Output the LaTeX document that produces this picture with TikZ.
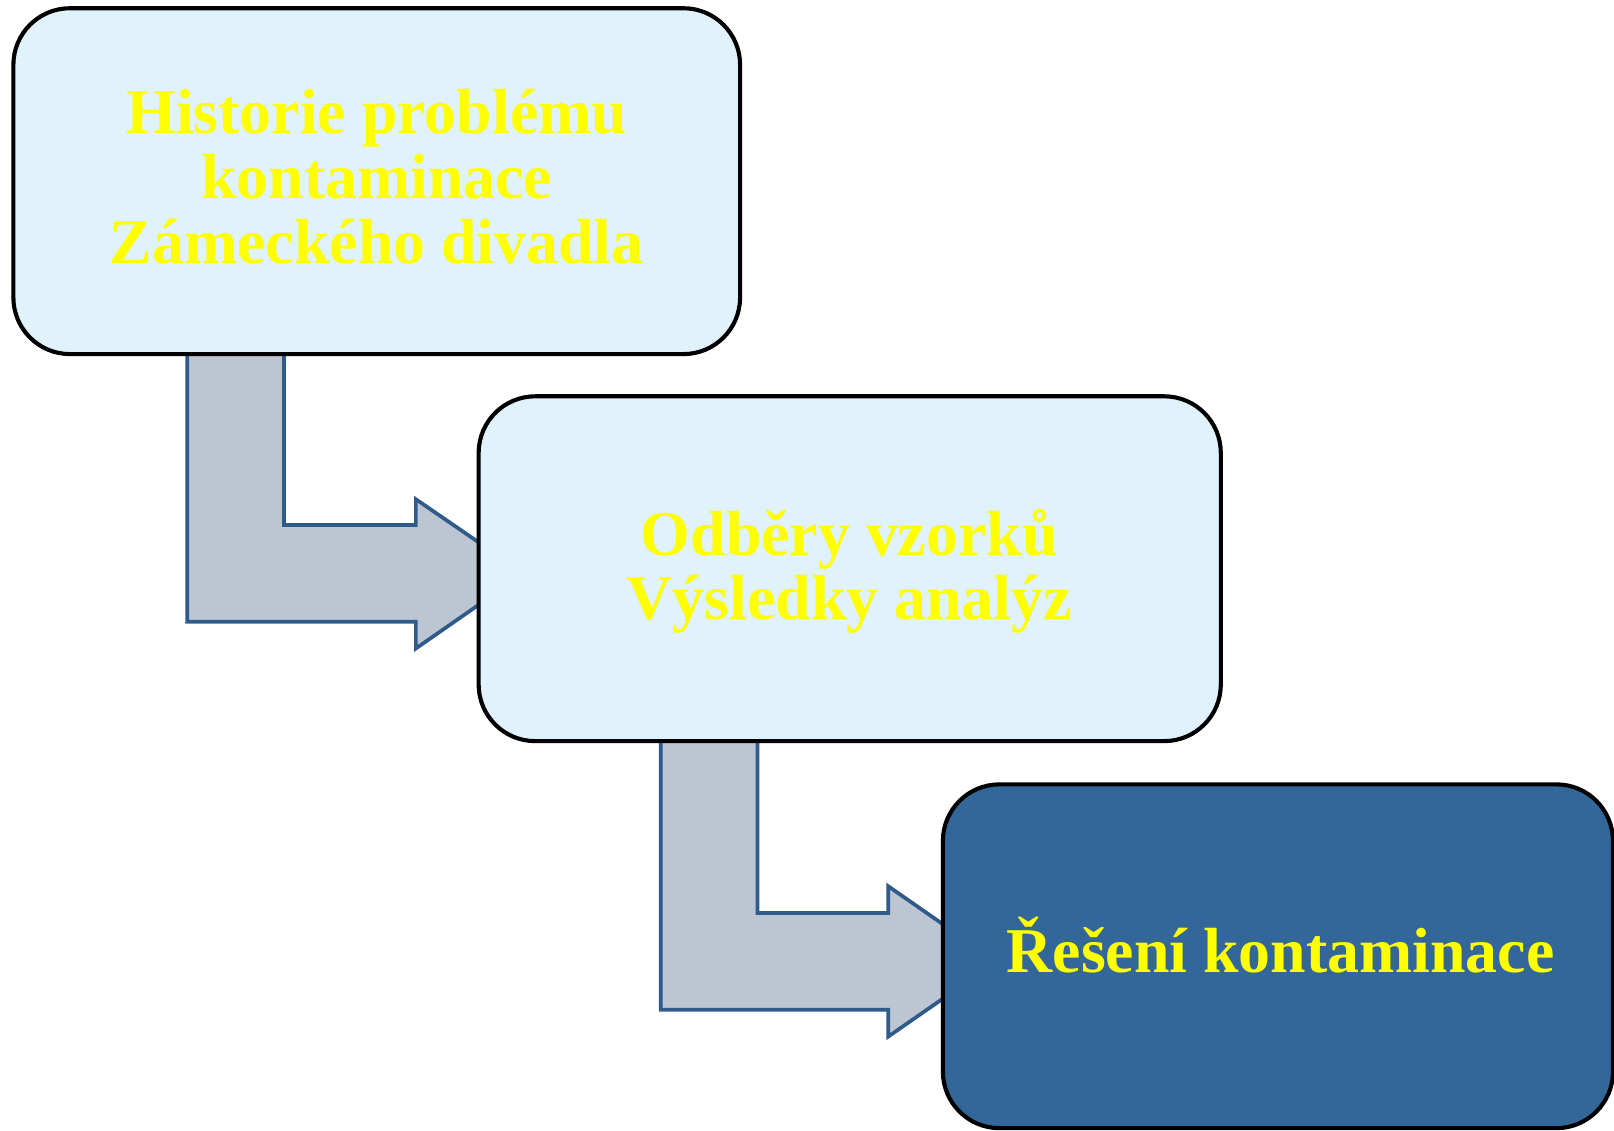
\documentclass[tikz,border=0pt]{standalone}
\usepackage{fontspec}
\setmainfont{Liberation Serif}
\definecolor{lightbox}{HTML}{E0F2FC}
\definecolor{darkbox}{HTML}{336699}
\definecolor{arrowfill}{HTML}{BEC5D2}
\definecolor{arrowline}{HTML}{2E5B8A}
\definecolor{txt}{HTML}{FFFF00}
\begin{document}
\begin{tikzpicture}[x=0.5pt,y=-0.5pt,
  stagebox/.style={draw=black, line width=2pt, rounded corners=27.5pt,
    inner sep=0pt, outer sep=0pt},
  stagetext/.style={align=center, text=txt, inner sep=0pt,
    font=\fontsize{31}{31.5}\selectfont\bfseries},
  bentarrow/.style={fill=arrowfill, draw=arrowline, line width=1.8pt, line join=miter}]
\useasboundingbox (0,0) rectangle (1568,1098);
% bent arrows (behind boxes)
\draw[bentarrow] (182,344) -- (276,344) -- (276,510) -- (404,510) -- (404,485)
  -- (509,557) -- (404,630) -- (404,604) -- (182,604) -- cycle;
\draw[bentarrow] (642,720) -- (736,720) -- (736,887) -- (863,887) -- (863,861)
  -- (968,934) -- (863,1007) -- (863,981) -- (642,981) -- cycle;
% boxes
\node[stagebox, fill=lightbox, minimum width=353pt, minimum height=168pt] (b1) at (366,176) {};
\node[stagebox, fill=lightbox, minimum width=360.5pt, minimum height=167.5pt] (b2) at (825.5,552.5) {};
\node[stagebox, fill=darkbox, minimum width=325.5pt, minimum height=167pt] (b3) at (1241.5,929) {};
% texts
\node[stagetext, anchor=base] (t1) at (366,193) {kontaminace};
\node[stagetext, anchor=base] (t1a) at (366,130) {Historie problému};
\node[stagetext, anchor=base] (t1b) at (366,256) {Zámeckého divadla};
\node[stagetext, anchor=base] (t2a) at (825,540) {Odběry vzorků};
\node[stagetext, anchor=base] (t2b) at (825,602) {Výsledky analýz};
\node[stagetext, anchor=base] (t3) at (1244,945) {Řešení kontaminace};
\end{tikzpicture}
\end{document}
